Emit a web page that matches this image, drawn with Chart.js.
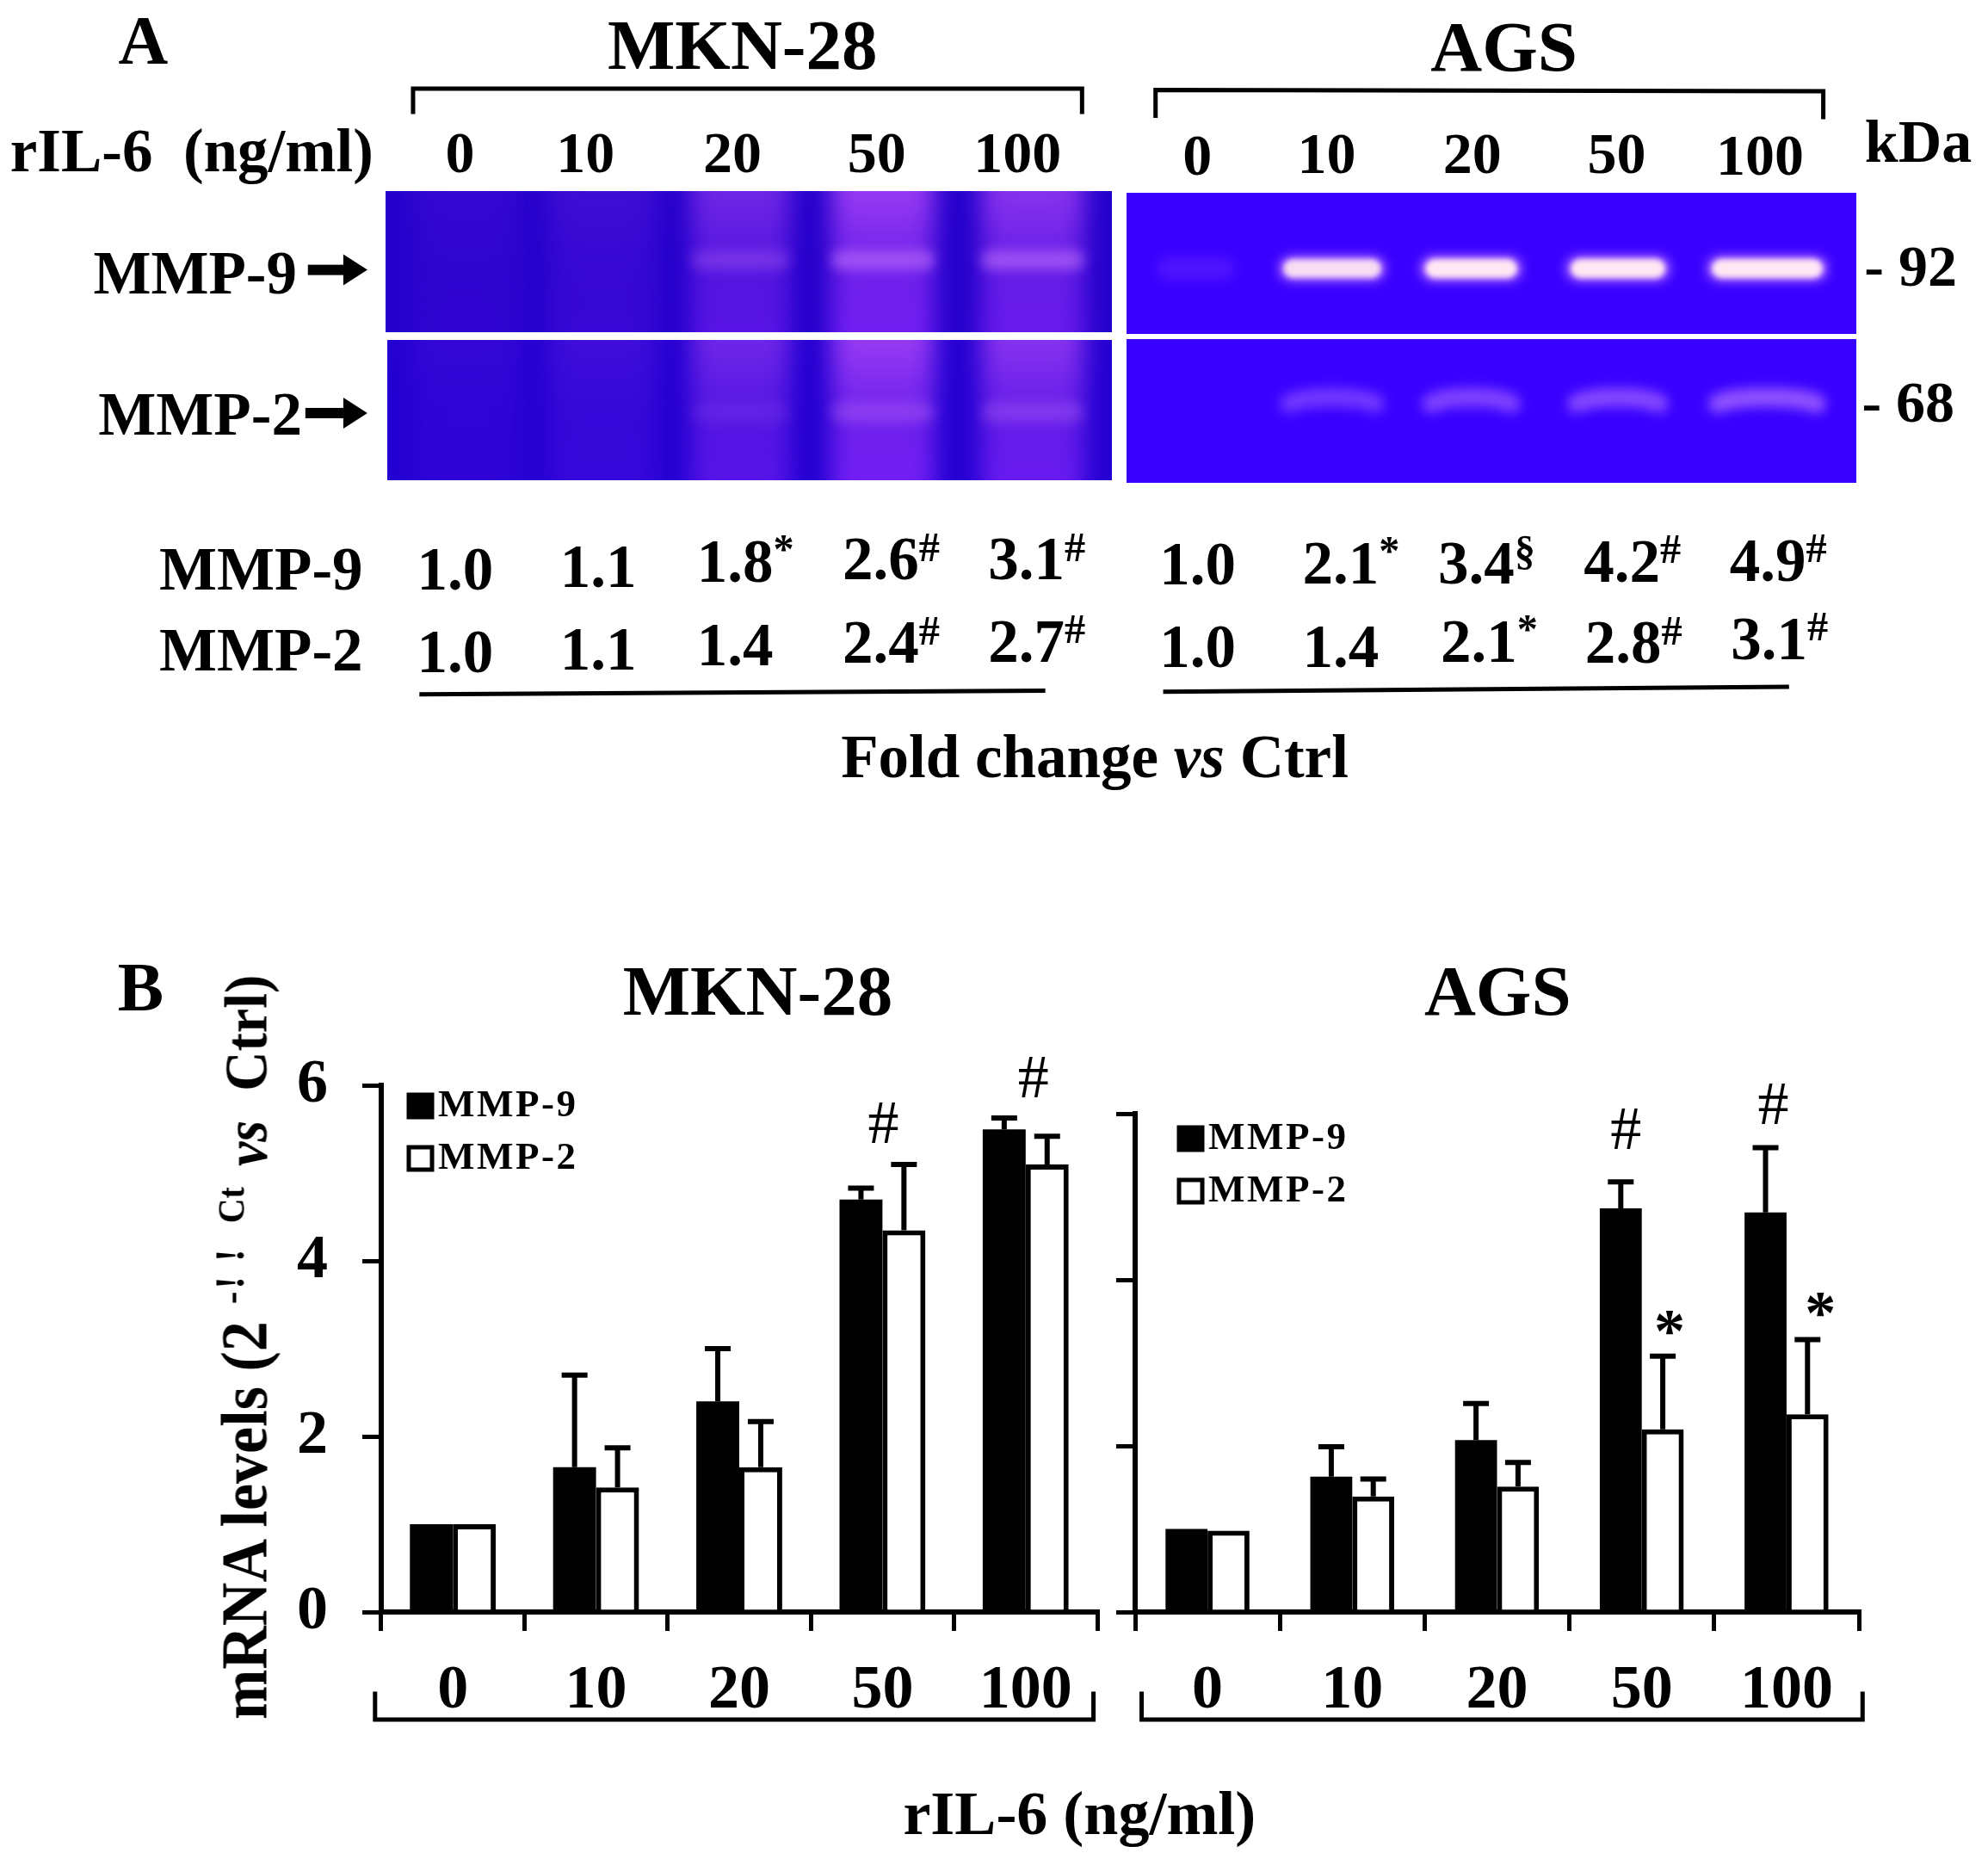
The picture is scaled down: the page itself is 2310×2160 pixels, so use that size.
<!DOCTYPE html>
<html>
<head>
<meta charset="utf-8">
<script src="https://cdn.jsdelivr.net/npm/chart.js@4/dist/chart.umd.min.js"></script>
<style>
  html, body { margin: 0; background: #fff; }
  #page { position: relative; width: 2310px; height: 2160px; overflow: hidden; font-family: "Liberation Serif", serif; font-weight: bold; color: #000; }
  #page canvas { position: absolute; }
  .t { position: absolute; line-height: 1; white-space: pre; }
  .up { position: relative; top: -0.45em; font-size: 0.68em; }
</style>
</head>
<body>
<div id="page">
  <canvas id="gels" width="2310" height="2160" style="left:0;top:0"></canvas>
  <canvas id="leftChart" width="980" height="830"></canvas>
  <canvas id="rightChart" width="980" height="830"></canvas>
</div>
<script>
const doses = ["0", "10", "20", "50", "100"];
const seriesNames = ["MMP-9", "MMP-2"];

// panel B, mRNA levels
const mkn9 = [1.0, 1.65, 2.4, 4.7, 5.5];
const mkn2 = [1.0, 1.42, 1.65, 4.35, 5.1];
const mkn9Top = [null, 2.7, 3.0, 4.83, 5.63];
const mkn2Top = [null, 1.87, 2.17, 5.1, 5.42];
const ags9 = [1.0, 1.63, 2.07, 4.86, 4.81];
const ags2 = [0.98, 1.39, 1.51, 2.2, 2.38];
const ags9Top = [null, 1.99, 2.51, 5.18, 5.59];
const ags2Top = [null, 1.6, 1.8, 3.08, 3.28];
const yTicks = ["0", "2", "4", "6"];

// significance marks above the bars: symbol and the height it sits at
const mknMarks = [null, null, null, "#", "#"];
const mknMarkY = [null, null, null, 5.53, 6.05];
const agsMarks9 = [null, null, null, "#", "#"];
const agsMarkY9 = [null, null, null, 5.77, 6.07];
const agsMarks2 = [null, null, null, "*", "*"];
const agsMarkY2 = [null, null, null, 3.33, 3.55];

// panel A, fold change
const foldMkn9 = ["1.0", "1.1", "1.8", "2.6", "3.1"];
const foldMkn9Sig = ["", "", "*", "#", "#"];
const foldMkn2 = ["1.0", "1.1", "1.4", "2.4", "2.7"];
const foldMkn2Sig = ["", "", "", "#", "#"];
const foldAgs9 = ["1.0", "2.1", "3.4", "4.2", "4.9"];
const foldAgs9Sig = ["", "*", "§", "#", "#"];
const foldAgs2 = ["1.0", "1.4", "2.1", "2.8", "3.1"];
const foldAgs2Sig = ["", "", "*", "#", "#"];

// gel lanes, rough brightness by eye
const mknLaneGlow = [0.1, 0.18, 0.5, 0.76, 0.66];
const mknBand92 = [0, 0, 0.3, 0.6, 0.6];
const mknBand68 = [0, 0, 0.12, 0.32, 0.3];
const agsBand92 = [0.14, 0.9, 1, 1, 1];
const agsBand68 = [0, 0.5, 0.6, 0.65, 0.75];

const k = 2310 / 1569; // positions below were measured on a 1569 wide view
const page = document.getElementById("page");

const text = (html, x, y, size, left) => {
  const d = document.createElement("div");
  d.className = "t";
  d.innerHTML = html;
  d.style.left = x * k + "px";
  d.style.top = y * k + "px";
  d.style.fontSize = size + "px";
  d.style.transform = left ? "translateY(-50%)" : "translate(-50%,-50%)";
  page.appendChild(d);
};

// panel A text
text("A", 113, 32, 80);
text("MKN-28", 586, 35, 83);
text("AGS", 1187, 37, 83);
text("rIL-6  (ng/ml)", 8, 119, 71, true);
[363, 462, 578, 692, 803].forEach((x, i) => text(doses[i], x, 120, 68));
[945, 1047, 1162, 1276, 1389].forEach((x, i) => text(doses[i], x, i == 0 || i == 4 ? 122 : 121, 68));
text("kDa", 1514, 112, 70);
text("MMP-9", 154, 215, 71);
text("MMP-2", 158, 327, 71);
text("- 92", 1508, 210, 68);
text("- 68", 1506, 317, 68);
text("MMP-9", 206, 449, 71);
text("MMP-2", 206, 513, 71);

const foldRow = (vals, sigs, xs, ys) => vals.forEach((v, i) => {
  text(v + (sigs[i] ? '<span class="up">' + sigs[i] + "</span>" : ""), xs[i], ys[i], 71, true);
});
foldRow(foldMkn9, foldMkn9Sig, [329, 442, 550, 665, 780], [449, 447, 443, 441, 441]);
foldRow(foldMkn2, foldMkn2Sig, [329, 442, 550, 665, 780], [514, 512, 509, 507, 506]);
foldRow(foldAgs9, foldAgs9Sig, [915, 1028, 1135, 1250, 1365], [445, 444, 444, 443, 442]);
foldRow(foldAgs2, foldAgs2Sig, [915, 1028, 1137, 1251, 1366], [510, 510, 506, 507, 504]);
text('Fold change <i>vs</i> Ctrl', 864, 597, 71);

// panel B text
text("B", 111, 779, 80);
text("MKN-28", 598, 782, 83);
text("AGS", 1182, 782, 83);
text("rIL-6 (ng/ml)", 852, 1431, 72);

const yTitle = document.createElement("div");
yTitle.className = "t";
yTitle.style.cssText = "left:246px;top:1998px;font-size:70px;transform-origin:0 0;transform:rotate(-90deg) scaleY(1.1)";
yTitle.innerHTML = 'mRNA levels (2' +
  '<span style="font-size:44px;position:relative;top:-24px;margin-left:20px;letter-spacing:3px">-! !</span>' +
  '<span style="font-size:40px;position:relative;top:-24px;margin-left:27px">Ct</span>' +
  '<i style="margin-left:24px;font-size:64px">vs</i>' +
  '<span style="margin-left:34px;font-size:64px">Ctrl)</span>';
page.appendChild(yTitle);

// gel strips, brackets and arrows
const g = document.getElementById("gels").getContext("2d");

const bandPath = (a, b, y, arch) => {
  const w = b - a;
  g.beginPath();
  g.moveTo(a, y + arch);
  g.bezierCurveTo(a + w * 0.2, y - arch, b - w * 0.2, y - arch, b, y + arch);
};

const strip = (x0, y0, x1, y1, base, lanes, glow, bands, halo, core, bandY, bandH, arch) => {
  g.save();
  g.beginPath();
  g.rect(x0, y0, x1 - x0, y1 - y0);
  g.clip();
  g.fillStyle = base;
  g.fillRect(x0, y0, x1 - x0, y1 - y0);
  g.lineCap = "round";
  lanes.forEach(([a, b], i) => {
    if (glow[i] > 0) {
      g.filter = "blur(14px)";
      const grad = g.createLinearGradient(0, y0, 0, y1);
      grad.addColorStop(0, "rgba(175,70,250," + Math.min(1, glow[i] * 1.1) + ")");
      grad.addColorStop(0.55, "rgba(150,50,250," + glow[i] * 0.85 + ")");
      grad.addColorStop(1, "rgba(140,40,255," + glow[i] + ")");
      g.fillStyle = grad;
      g.fillRect(a, y0 - 40, b - a, y1 - y0 + 80);
    }
    if (bands[i] > 0) {
      g.filter = "blur(7px)";
      g.globalAlpha = Math.min(1, bands[i]);
      g.strokeStyle = halo;
      g.lineWidth = bandH;
      bandPath(a + bandH / 2, b - bandH / 2, bandY, arch);
      g.stroke();
      if (core && bands[i] > 0.5) {
        g.filter = "blur(3px)";
        g.strokeStyle = core;
        g.lineWidth = bandH * 0.8;
        bandPath(a + bandH / 2 + 2, b - bandH / 2 - 2, bandY, arch);
        g.stroke();
      }
      g.globalAlpha = 1;
    }
  });
  g.filter = "none";
  g.restore();
};

const noGlow = [0, 0, 0, 0, 0];
const mknLanes = [[481, 605], [638, 763], [803, 918], [966, 1086], [1140, 1260]];
const agsLanes = [[1344, 1435], [1487, 1609], [1652, 1767], [1821, 1939], [1985, 2122]];
strip(448, 222, 1292, 386, "#2500cc", mknLanes, mknLaneGlow, mknBand92, "#c070fc", null, 302, 22, 0);
strip(450, 395, 1292, 558, "#2400d2", mknLanes, mknLaneGlow, mknBand68, "#c070f8", null, 479, 24, 0);
strip(1309, 224, 2157, 388, "#3a00ff", agsLanes, noGlow, agsBand92, "#d090ff", "#ffe8f4", 312, 26, 0);
strip(1309, 394, 2157, 561, "#3800ff", agsLanes, noGlow, agsBand68, "#b070ff", null, 464, 22, 5);

g.strokeStyle = "#000";
g.lineWidth = 5;
const path = pts => {
  g.beginPath();
  pts.forEach(([x, y], i) => i ? g.lineTo(x * k, y * k) : g.moveTo(x * k, y * k));
  g.stroke();
};
path([[326, 90], [326, 70], [854, 70], [854, 90]]);
path([[912, 93], [912, 71], [1439, 72], [1439, 94]]);
path([[331, 548], [825, 545]]);
path([[918, 546], [1412, 542]]);
path([[296, 1335], [296, 1357], [863, 1357], [863, 1335]]);
path([[901, 1335], [901, 1357], [1470, 1357], [1470, 1335]]);

const arrow = (x0, x1, y) => {
  g.fillStyle = "#000";
  g.fillRect(x0 * k, y * k - 6, (x1 - x0) * k - 20, 12);
  g.beginPath();
  g.moveTo(x1 * k, y * k);
  g.lineTo(x1 * k - 28, y * k - 18);
  g.lineTo(x1 * k - 28, y * k + 18);
  g.closePath();
  g.fill();
};
arrow(243, 290, 213);
arrow(241, 290, 326);

// charts
const errorBars = {
  id: "errorBars",
  afterDatasetsDraw(chart) {
    const { ctx, scales } = chart;
    ctx.save();
    ctx.strokeStyle = "#000";
    ctx.lineWidth = 6;
    chart.data.datasets.forEach((ds, i) => {
      chart.getDatasetMeta(i).data.forEach((bar, j) => {
        if (ds.errTop[j] == null) return;
        const top = scales.y.getPixelForValue(ds.errTop[j]);
        const base = scales.y.getPixelForValue(ds.data[j]);
        ctx.beginPath();
        ctx.moveTo(bar.x, base);
        ctx.lineTo(bar.x, top);
        ctx.moveTo(bar.x - 15, top);
        ctx.lineTo(bar.x + 15, top);
        ctx.stroke();
      });
    });
    ctx.restore();
  }
};

const sigMarks = {
  id: "sigMarks",
  afterDatasetsDraw(chart) {
    const { ctx, scales } = chart;
    ctx.save();
    ctx.fillStyle = "#000";
    ctx.textAlign = "center";
    ctx.textBaseline = "middle";
    chart.data.datasets.forEach((ds, i) => {
      if (!ds.marks) return;
      chart.getDatasetMeta(i).data.forEach((bar, j) => {
        if (!ds.marks[j]) return;
        ctx.font = (ds.marks[j] == "*" ? "bold " : "") + '72px "Liberation Serif"';
        ctx.fillText(ds.marks[j], bar.x + ds.markShift[j], scales.y.getPixelForValue(ds.markY[j]));
      });
    });
    ctx.restore();
  }
};

const keyBox = {
  id: "keyBox",
  afterDraw(chart) {
    const { ctx } = chart;
    const o = chart.options.plugins.keyBox;
    ctx.save();
    ctx.textBaseline = "middle";
    ctx.font = 'bold 45px "Liberation Serif"';
    ctx.letterSpacing = "2.5px";
    chart.data.datasets.forEach((ds, i) => {
      const x = chart.chartArea.left + o.x;
      const y = o.y + i * 61;
      ctx.fillStyle = ds.backgroundColor;
      ctx.strokeStyle = "#000";
      ctx.lineWidth = 5;
      ctx.fillRect(x, y - 13, 27, 26);
      ctx.strokeRect(x, y - 13, 27, 26);
      ctx.fillStyle = "#000";
      ctx.fillText(ds.label, x + 34, y);
    });
    ctx.restore();
  }
};

const makeChart = (id, left, top, xHeight, padTop, padRight, labelled, v9, v2, t9, t2, extra, keyPos, catPct) => {
  const el = document.getElementById(id);
  el.style.left = left + "px";
  el.style.top = top + "px";
  const axisFont = { family: "Liberation Serif", weight: "bold", size: 72 };
  return new Chart(el, {
    type: "bar",
    data: {
      labels: doses,
      datasets: [
        Object.assign({ label: seriesNames[0], data: v9, errTop: t9, backgroundColor: "#000", borderColor: "#000", borderWidth: 0 }, extra[0]),
        Object.assign({ label: seriesNames[1], data: v2, errTop: t2, backgroundColor: "#fff", borderColor: "#000", borderWidth: 6 }, extra[1])
      ]
    },
    options: {
      responsive: false,
      animation: false,
      devicePixelRatio: 1,
      datasets: { bar: { categoryPercentage: catPct, barPercentage: 1 } },
      layout: { padding: { top: padTop, right: padRight, bottom: 0, left: 0 } },
      plugins: { legend: { display: false }, tooltip: { enabled: false }, keyBox: keyPos },
      scales: {
        x: {
          afterFit: s => { s.height = xHeight; },
          grid: { display: true, offset: true, drawOnChartArea: false, color: "#000", lineWidth: 5, tickLength: 22 },
          border: { color: "#000", width: 6 },
          ticks: { color: "#000", font: axisFont, padding: 27, maxRotation: 0 }
        },
        y: {
          min: 0,
          max: 6,
          afterFit: s => { s.width = 112; },
          grid: { display: true, drawOnChartArea: false, color: "#000", lineWidth: 5, tickLength: 22 },
          border: { color: "#000", width: 6 },
          ticks: {
            stepSize: 2,
            color: "#000",
            font: axisFont,
            padding: 40,
            callback: (v, i) => (labelled ? yTicks[i] : "")
          }
        }
      }
    },
    plugins: [errorBars, sigMarks, keyBox]
  });
};

makeChart("leftChart", 331, 1178, 135, 68, 36, true, mkn9, mkn2, mkn9Top, mkn2Top,
  [{ marks: mknMarks, markY: mknMarkY, markShift: [0, 0, 0, 26, 34] }, {}],
  { x: 32, y: 107 }, 0.6);
makeChart("rightChart", 1207, 1183, 140, 111, 27, false, ags9, ags2, ags9Top, ags2Top,
  [{ marks: agsMarks9, markY: agsMarkY9, markShift: [0, 0, 0, 6, 9] }, { marks: agsMarks2, markY: agsMarkY2, markShift: [0, 0, 0, 8, 15] }],
  { x: 51, y: 140 }, 0.58);
</script>
</body>
</html>
